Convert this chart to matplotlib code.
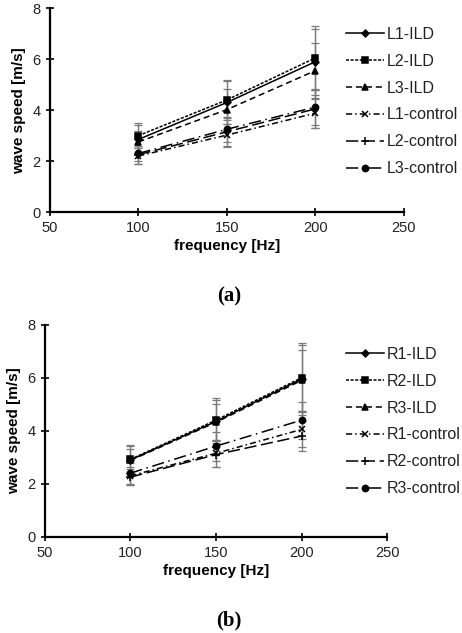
import matplotlib
matplotlib.use("Agg")
import matplotlib.pyplot as plt

plt.rcParams['font.family'] = ['Liberation Sans', 'DejaVu Sans']

freq = [100, 150, 200]

# Panel (a)
labels_a = ["L1-ILD", "L2-ILD", "L3-ILD", "L1-control", "L2-control", "L3-control"]
L1_ILD = [2.85, 4.30, 5.90]
L2_ILD = [3.00, 4.40, 6.05]
L3_ILD = [2.75, 4.02, 5.55]
L1_control = [2.20, 3.02, 3.88]
L2_control = [2.25, 3.15, 4.05]
L3_control = [2.30, 3.25, 4.12]
L1_ILD_sd = [0.55, 0.85, 1.30]
L2_ILD_sd = [0.50, 0.80, 1.25]
L3_ILD_sd = [0.45, 0.80, 1.10]
L1_control_sd = [0.30, 0.45, 0.60]
L2_control_sd = [0.35, 0.55, 0.75]
L3_control_sd = [0.30, 0.50, 0.70]

# Panel (b)
labels_b = ["R1-ILD", "R2-ILD", "R3-ILD", "R1-control", "R2-control", "R3-control"]
R1_ILD = [2.90, 4.35, 5.95]
R2_ILD = [2.92, 4.40, 6.00]
R3_ILD = [2.88, 4.32, 5.90]
R1_control = [2.30, 3.15, 4.05]
R2_control = [2.25, 3.10, 3.80]
R3_control = [2.40, 3.42, 4.40]
R1_ILD_sd = [0.55, 0.90, 1.35]
R2_ILD_sd = [0.50, 0.75, 1.25]
R3_ILD_sd = [0.45, 0.70, 1.15]
R1_control_sd = [0.35, 0.50, 0.65]
R2_control_sd = [0.30, 0.45, 0.55]
R3_control_sd = [0.40, 0.55, 0.70]

styles = [
    dict(ls='-', marker='D', ms=3.5),
    dict(ls=(0, (2, 1)), marker='s', ms=5),
    dict(ls=(0, (4, 2.5)), marker='^', ms=4.5),
    dict(ls=(0, (4, 2, 1, 2)), marker='x', ms=5),
    dict(ls=(0, (8, 3)), marker='+', ms=6),
    dict(ls=(0, (8, 3, 1, 3)), marker='o', ms=4.5),
]

fig = plt.figure(figsize=(4.62, 6.33), dpi=100)


def panel(rect, series, sds, labels, legend_top, tag, tag_y):
    ax = fig.add_axes(rect)
    for vals, sd, lab, st in zip(series, sds, labels, styles):
        ax.errorbar(freq, vals, yerr=sd, fmt='none', ecolor='#7a7a7a',
                    elinewidth=0.9, capsize=3, capthick=0.9, zorder=1)
        ax.plot(freq, vals, color='black', lw=1.1, linestyle=st['ls'],
                marker=st['marker'], ms=st['ms'], mfc='black', mec='black',
                mew=1.1, label=lab, zorder=2)
    ax.set_xlim(50, 250)
    ax.set_ylim(0, 8)
    ax.set_xticks([50, 100, 150, 200, 250])
    ax.set_yticks([0, 2, 4, 6, 8])
    for s in ['top', 'right']:
        ax.spines[s].set_visible(False)
    for s in ['left', 'bottom']:
        ax.spines[s].set_linewidth(1.6)
    ax.tick_params(direction='inout', length=6, width=1.2, labelsize=10.5,
                   colors='black', labelcolor='#222222')
    ax.set_xlabel('frequency [Hz]', fontsize=11, fontweight='bold', labelpad=3)
    ax.set_ylabel('wave speed [m/s]', fontsize=11, fontweight='bold', labelpad=5)
    h, l = ax.get_legend_handles_labels()
    leg = fig.legend(h, l, loc='upper left', bbox_to_anchor=(0.748, legend_top),
                     frameon=False, fontsize=11.5, handlelength=2.4, handletextpad=0.15,
                     labelspacing=0.74, borderaxespad=0, borderpad=0)
    for t in leg.get_texts():
        t.set_color('#222222')
    fig.text(0.495, tag_y, tag, ha='center', va='center', fontsize=15,
             fontweight='bold', family='Liberation Serif')
    return ax


panel([0.108, 0.665, 0.766, 0.322],
      [L1_ILD, L2_ILD, L3_ILD, L1_control, L2_control, L3_control],
      [L1_ILD_sd, L2_ILD_sd, L3_ILD_sd, L1_control_sd, L2_control_sd, L3_control_sd],
      labels_a, 1 - 27 / 633, '(a)', 1 - 296 / 633)

panel([0.097, 0.152, 0.741, 0.335],
      [R1_ILD, R2_ILD, R3_ILD, R1_control, R2_control, R3_control],
      [R1_ILD_sd, R2_ILD_sd, R3_ILD_sd, R1_control_sd, R2_control_sd, R3_control_sd],
      labels_b, 1 - 347 / 633, '(b)', 1 - 620 / 633)

fig.savefig('out.png', dpi=100)
